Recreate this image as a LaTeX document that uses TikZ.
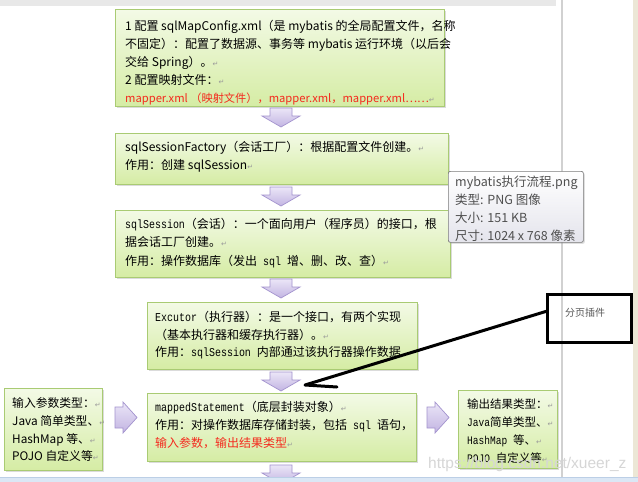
\documentclass[tikz,border=0pt]{standalone}
\usepackage{fontspec}
\setmainfont{Noto Sans CJK SC}
\newfontfamily\monof[FakeStretch=0.83]{Liberation Mono}
\newfontfamily\dejavu{DejaVu Sans}
\newfontfamily\wmfont{Liberation Sans}
\usetikzlibrary{shadows}
\definecolor{boxtop}{HTML}{F3FAE6}
\definecolor{boxbot}{HTML}{D5ECA4}
\definecolor{boxline}{HTML}{A9CB73}
\definecolor{arrtop}{HTML}{EBE6F7}
\definecolor{arrbot}{HTML}{C2B4E2}
\definecolor{arrline}{HTML}{A393CE}
\definecolor{redtxt}{HTML}{F42A1E}
\definecolor{tipline}{HTML}{7A7A7A}
\definecolor{tiptxt}{HTML}{4F4F4F}
\definecolor{tipbot}{HTML}{E4E4EC}
\definecolor{beige}{HTML}{ECE7D6}
\definecolor{bluestrip}{HTML}{DBE7F5}
\definecolor{blueline}{HTML}{BCCFE6}
\newcommand\mn[1]{{\monof #1}}
\newcommand\retmk{{\dejavu\fontsize{7}{7}\selectfont\textcolor{black!40}{↵}}}
\begin{document}
\begin{tikzpicture}[x=1pt,y=-1pt,
  gbox/.style={draw=boxline, line width=0.8pt, top color=boxtop, bottom color=boxbot,
    anchor=north west, inner sep=0pt,
    drop shadow={opacity=0.28, shadow xshift=2pt, shadow yshift=-2pt}},
  txt/.style={inner sep=0pt, anchor=north west, align=left},
  darr/.pic={\draw[draw=arrline, line width=0.7pt, top color=arrtop, bottom color=arrbot]
      (-11,0) -- (11,0) -- (11,8) -- (19,8) -- (0,19) -- (-19,8) -- (-11,8) -- cycle;},
  rarr/.pic={\draw[draw=arrline, line width=0.7pt, top color=arrtop, bottom color=arrbot]
      (0,-10.5) -- (8,-10.5) -- (8,-15.5) -- (22,0) -- (8,15.5) -- (8,10.5) -- (0,10.5) -- cycle;}
]
\useasboundingbox (0,0) rectangle (638,482);
% background
\fill[white] (0,0) rectangle (638,482);
\fill[black!9] (0,0) rectangle (556,6);
\draw[black!18, line width=1.3pt] (562,0) -- (562,477);
\fill[beige] (633,0) rectangle (638,482);

% boxes
\node[gbox, minimum width=329pt, minimum height=97pt] (b1) at (115,9) {};
\node[gbox, minimum width=333pt, minimum height=51pt] (b2) at (115,133) {};
\node[gbox, minimum width=335pt, minimum height=67pt] (b3) at (115,210) {};
\node[gbox, minimum width=270pt, minimum height=67pt] (b4) at (147,302) {};
\node[gbox, minimum width=269pt, minimum height=68pt] (b5) at (147,393) {};
\node[gbox, minimum width=98pt, minimum height=82pt] (bl) at (4,388) {};
\node[gbox, minimum width=99pt, minimum height=78pt] (br) at (458,390) {};

% texts
\node[txt, font=\fontsize{12}{18}\selectfont] (t1) at (125,20.5) {1 配置 sqlMapConfig.xml（是 mybatis 的全局配置文件，名称\\
不固定）：配置了数据源、事务等 mybatis 运行环境（以后会\\
交给 Spring）。\retmk\\
2 配置映射文件：\retmk\\
{\fontsize{11.2}{18}\selectfont\textcolor{redtxt}{mapper.xml （映射文件），mapper.xml，mapper.xml……}}\retmk};
\node[txt, font=\fontsize{12}{18}\selectfont] (t2) at (125,141.5) {sqlSessionFactory（会话工厂）：根据配置文件创建。\retmk\\
作用：创建 sqlSession\retmk};
\node[txt, font=\fontsize{12}{18.5}\selectfont] (t3) at (125,218) {\mn{sqlSession}（会话）：一个面向用户（程序员）的接口，根\\
据会话工厂创建。\retmk\\
作用：操作数据库（发出\mn{ sql }增、删、改、查）\retmk};
\node[txt, font=\fontsize{12}{17.5}\selectfont] (t4) at (155,311.5) {\mn{Excutor}（执行器）：是一个接口，有两个实现\\
（基本执行器和缓存执行器）。\retmk\\
作用：\mn{sqlSession }内部通过该执行器操作数据};
\node[txt, font=\fontsize{12}{18}\selectfont] (t5) at (155,401.5) {\mn{mappedStatement}（底层封装对象）\retmk\\
作用：对操作数据库存储封装，包括\mn{ sql }语句，\\
\textcolor{redtxt}{输入参数，输出结果类型}\retmk};
\node[txt, font=\fontsize{11.8}{17.7}\selectfont] (tl) at (12,397.5) {输入参数类型：\retmk\\
Java 简单类型、\retmk\\
HashMap 等、\retmk\\
POJO 自定义等\retmk};
\node[txt, font=\fontsize{11.5}{18}\selectfont] (tr) at (467,398.5) {输出结果类型：\retmk\\
\mn{Java}简单类型、\retmk\\
\mn{HashMap }等、\retmk\\
\mn{POJO }自定义等\retmk};

% block arrows
\pic at (281,108) {darr};
\pic at (281,187) {darr};
\pic at (281,279) {darr};
\pic at (281,372) {darr};
\pic at (281,465) {darr};
\pic at (115,417.5) {rarr};
\pic at (427,417.5) {rarr};

% tooltip
\node[anchor=north west, draw=tipline, line width=0.7pt, rounded corners=2pt,
  top color=white, bottom color=tipbot, minimum width=135pt, minimum height=71pt,
  drop shadow={opacity=0.25, shadow xshift=1.5pt, shadow yshift=-1.5pt}] (tip) at (448,171) {};
\node[txt, text=tiptxt, font=\fontsize{12.5}{18}\selectfont] (tipt) at (455,175.5) {mybatis执行流程.png\\
类型: PNG 图像\\
大小: 151 KB\\
尺寸: 1024 x 768 像素};

% callout
\node[anchor=north west, draw=black, line width=2.8pt, minimum width=84pt, minimum height=48pt] (co) at (546,293) {};
\node[anchor=west, inner sep=0pt, text=black!65, font=\fontsize{10}{12}\selectfont] (cot) at (565,313) {分页插件};
\coordinate (ctip) at (305,385);
\draw[line width=3pt, line cap=round, line join=round] ([yshift=7pt]co.west) -- (ctip) -- ++(32,2);

% watermark
\node[anchor=base west, inner sep=0pt, text=black!16, font=\wmfont\fontsize{15.5}{15.5}\selectfont] (wm) at (428,468) {https://blog.csdn.net/xueer\_z};

% bottom strip
\fill[bluestrip] (0,477) rectangle (638,482);
\draw[blueline, line width=0.8pt] (0,477) -- (638,477);
\end{tikzpicture}
\end{document}
